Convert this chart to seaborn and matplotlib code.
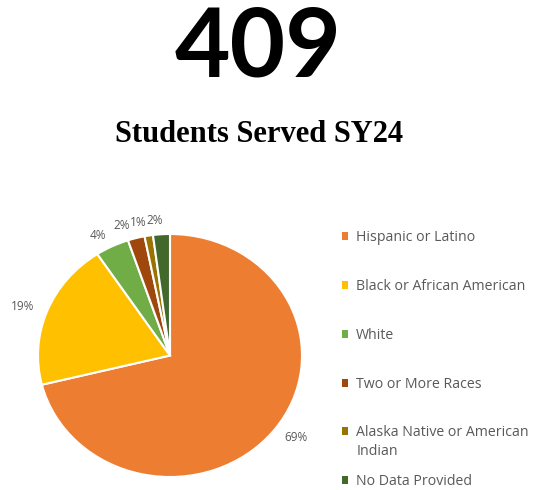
import matplotlib
matplotlib.use("Agg")
import matplotlib.pyplot as plt
import seaborn as sns

categories = ["Hispanic or Latino", "Black or African American", "White",
              "Two or More Races", "Alaska Native or American\nIndian", "No Data Provided"]
values = [69, 19, 4, 2, 1, 2]
pct_labels = [f"{v}%" for v in values]
colors = ["#ED7D31", "#FFC000", "#70AD47", "#9E480E", "#997300", "#43682B"]

sns.set_theme(style="white")
plt.rcParams['font.family'] = ['Open Sans', 'DejaVu Sans']

fig = plt.figure(figsize=(5.35, 4.9), dpi=100)
fig.patch.set_facecolor("white")

W, H = 535, 490
cx, cy, rx, ry = 170, 355.5, 132, 121.5
ax = fig.add_axes([(cx - rx) / W, (H - cy - ry) / H, 2 * rx / W, 2 * ry / H])

wedges, texts = ax.pie(values, labels=pct_labels, colors=colors, startangle=90,
                       counterclock=False, labeldistance=1.1,
                       wedgeprops=dict(edgecolor="white", linewidth=1.5),
                       textprops=dict(color="#595959", fontsize=8.5))
ax.set_aspect("auto")
ax.set_xlim(-1, 1)
ax.set_ylim(-1, 1)
ax.axis("off")

# nudge the crowded small labels apart, as the reference does
tx, ty = texts[3].get_position()
texts[3].set_position((tx - 0.02, ty + 0.01))
tx, ty = texts[5].get_position()
texts[5].set_position((tx + 0.02, ty + 0.01))
tx, ty = texts[4].get_position()
texts[4].set_position((tx, ty + 0.01))

fig.text(258.5 / W, 1 - 49 / H, "409", ha="center", va="center",
         fontsize=69, fontweight="bold", color="black",
         family=["Lato", "DejaVu Sans"])
fig.text(259 / W, 1 - 134 / H, "Students Served SY24", ha="center", va="center",
         fontsize=22, fontweight="bold", color="black",
         family=["Liberation Serif", "DejaVu Serif"])

leg_labels = [c.split("\n")[0] for c in categories]
leg = fig.legend(wedges, leg_labels, loc="upper left",
                 bbox_to_anchor=(342 / W, 1 - 230 / H), frameon=False,
                 handlelength=0.45, handleheight=0.5, handletextpad=0.55,
                 labelspacing=2.39, fontsize=10.2, labelcolor="#595959",
                 borderpad=0, borderaxespad=0)
for h in leg.legend_handles:
    h.set_edgecolor("none")

fig.canvas.draw()
t = leg.get_texts()[4]
bb = t.get_window_extent()
extra = categories[4].split("\n")[1]
fig.text(bb.x0 / W, (bb.y0 - 4) / H, extra, ha="left", va="top",
         fontsize=10.2, color="#595959")

fig.savefig("out.png", dpi=100, facecolor="white")
